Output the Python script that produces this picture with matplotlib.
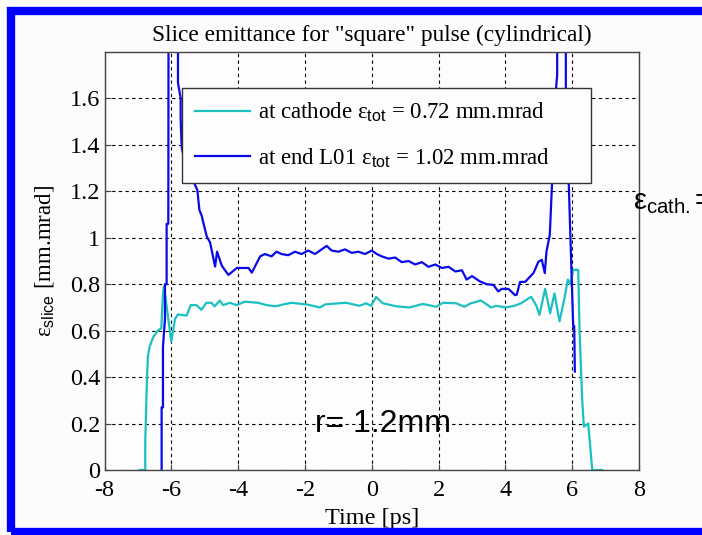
import matplotlib.pyplot as plt
import matplotlib.patches as mpatches
import numpy as np

plt.rcParams["font.family"] = ["Liberation Serif", "DejaVu Serif"]
plt.rcParams["mathtext.fontset"] = "custom"
plt.rcParams["mathtext.rm"] = "Liberation Sans"
plt.rcParams["mathtext.it"] = "Liberation Sans:italic"

# slice emittance at the cathode [ps, mm.mrad]
t_cathode = [-6.95, -6.78, -6.78, -6.73, -6.70, -6.65, -6.55, -6.41, -6.30, -6.26, -6.24,
             -6.22, -6.18, -6.10, -6.00, -5.89, -5.80, -5.54, -5.42, -5.25, -5.10, -4.95,
             -4.80, -4.70, -4.55, -4.45, -4.25, -4.04, -3.80, -3.40, -3.15, -2.87, -2.65,
             -2.40, -1.95, -1.55, -1.40, -0.97, -0.76, -0.37, -0.17, -0.02, 0.13, 0.33,
             0.73, 1.13, 1.53, 1.93, 2.13, 2.53, 2.77, 2.97, 3.27, 3.57, 3.72, 4.02,
             4.27, 4.47, 4.77, 4.92, 5.02, 5.19, 5.34, 5.47, 5.62, 5.77, 5.87, 5.95,
             6.03, 6.18, 6.22, 6.30, 6.35, 6.48, 6.60, 6.90]
e_cathode = [0.0, 0.0, 0.12, 0.39, 0.49, 0.53, 0.57, 0.60, 0.61, 0.73, 0.77,
             0.79, 0.75, 0.66, 0.553, 0.65, 0.67, 0.665, 0.71, 0.71, 0.69, 0.72,
             0.72, 0.705, 0.73, 0.71, 0.72, 0.71, 0.725, 0.72, 0.71, 0.705, 0.713,
             0.72, 0.713, 0.70, 0.713, 0.718, 0.72, 0.707, 0.718, 0.707, 0.745, 0.718,
             0.705, 0.70, 0.715, 0.703, 0.72, 0.718, 0.703, 0.718, 0.73, 0.70, 0.707, 0.70,
             0.707, 0.718, 0.746, 0.71, 0.668, 0.78, 0.675, 0.76, 0.64, 0.74, 0.82, 0.80,
             0.862, 0.862, 0.60, 0.30, 0.187, 0.20, 0.0, 0.0]

# slice emittance at the end of L01
t_l01 = [-6.29, -6.29, -6.25, -6.25, -6.19, -6.19, -6.14, -6.14, -6.09, -6.08, -5.80,
         -5.80, -5.72, -5.72, -5.69, -5.60, -5.22, -5.16, -5.09, -5.05, -4.94, -4.84,
         -4.69, -4.63, -4.49, -4.29, -4.04, -3.69, -3.59, -3.34, -3.20, -3.00, -2.85,
         -2.70, -2.50, -2.30, -2.10, -1.90, -1.70, -1.50, -1.35, -1.20, -1.00, -0.80,
         -0.60, -0.40, -0.20, 0.00, 0.15, 0.30, 0.50, 0.70, 0.90, 1.10, 1.30, 1.50,
         1.70, 1.90, 2.10, 2.30, 2.50, 2.70, 2.84, 3.00, 3.24, 3.44, 3.64, 3.79, 3.89,
         4.09, 4.29, 4.34, 4.44, 4.59, 4.84, 4.99, 5.09, 5.18, 5.23, 5.33, 5.35, 5.52,
         5.55, 5.56, 5.81, 5.81, 5.93, 6.03, 6.06, 6.08]
e_l01 = [0.0, 0.27, 0.27, 0.53, 0.65, 0.80, 0.80, 1.06, 1.06, 2.40, 2.40,
         1.667, 1.60, 1.51, 1.39, 1.33, 1.205, 1.12, 1.095, 1.07, 1.006, 0.98,
         0.876, 0.94, 0.88, 0.84, 0.87, 0.87, 0.85, 0.92, 0.93, 0.92, 0.94,
         0.93, 0.925, 0.94, 0.93, 0.945, 0.93, 0.95, 0.965, 0.945, 0.94, 0.95,
         0.935, 0.94, 0.93, 0.945, 0.93, 0.92, 0.91, 0.915, 0.895, 0.90, 0.885, 0.895,
         0.875, 0.885, 0.87, 0.875, 0.855, 0.86, 0.82, 0.835, 0.812, 0.80, 0.797, 0.769, 0.78,
         0.78, 0.753, 0.755, 0.81, 0.81, 0.848, 0.897, 0.905, 0.848, 0.94, 1.013, 1.078, 1.65,
         1.70, 2.40, 2.40, 1.65, 1.08, 0.62, 0.62, 0.424]

label_cathode = r"at cathode ε$_{\mathrm{tot}}$ = 0.72 mm.mrad"
label_l01 = r"at end L01 ε$_{\mathrm{tot}}$ = 1.02 mm.mrad"
x_ticks = [-8, -6, -4, -2, 0, 2, 4, 6, 8]
y_ticks = [0, 0.2, 0.4, 0.6, 0.8, 1, 1.2, 1.4, 1.6]
y_ticklabels = ["0", "0.2", "0.4", "0.6", "0.8", "1", "1.2", "1.4", "1.6"]

SERIF = ["Liberation Serif", "DejaVu Serif"]
W, H = 702, 535
fig = plt.figure(figsize=(W / 100, H / 100), dpi=100)
fig.patch.set_facecolor("#fcfcfc")

# blue frame around the slide
frame = mpatches.Rectangle((11 / W, 1 - 531.5 / H), 800 / W, 521 / H,
                           transform=fig.transFigure, fill=False,
                           edgecolor="#0000ff", linewidth=6, clip_on=False)
fig.patches.append(frame)

ax = fig.add_axes([104.5 / W, (H - 470) / H, 534.5 / W, 418 / H])
ax.set_facecolor("#fdfdfd")
ax.plot(t_cathode, e_cathode, color="#1cc0c0", lw=1.6, label=label_cathode)
ax.plot(t_l01, e_l01, color="#0a0ae8", lw=1.6, label=label_l01)

ax.set_xlim(-8, 8)
ax.set_ylim(0, 1.8)
ax.set_xticks(x_ticks)
ax.set_xticklabels([str(v) for v in x_ticks], family=SERIF, fontsize=17.5)
ax.set_yticks(y_ticks)
ax.set_yticklabels(y_ticklabels, family=SERIF, fontsize=17.5)
ax.tick_params(direction="in", length=4, color="#444444", pad=3)
ax.tick_params(axis="x", pad=7)
ax.grid(True, color="black", linestyle=(0, (3, 3)), linewidth=0.8)
ax.set_axisbelow(True)
for s in ax.spines.values():
    s.set_color("#444444")
    s.set_linewidth(1.0)

ax.set_title('Slice emittance for "square" pulse (cylindrical)', fontsize=16.8, pad=8)
ax.set_xlabel("Time [ps]", fontsize=17.5)
ax.xaxis.set_label_coords(0.5, -0.09)
ax.set_ylabel(r"ε$_{\mathrm{slice}}$ [mm.mrad]", fontsize=16.5)
ax.yaxis.set_label_coords(-0.088, 0.5)

leg = ax.legend(loc="upper left", bbox_to_anchor=(0.145, 0.672, 0.765, 0.242),
                mode="expand", fontsize=16.5, frameon=True, fancybox=False,
                handlelength=2.4, handletextpad=0.35, labelspacing=0.95,
                borderpad=0.55, borderaxespad=0)
leg.get_frame().set_edgecolor("#333333")
leg.get_frame().set_linewidth(1.0)
leg.get_frame().set_facecolor("#fdfdfd")
leg.get_frame().set_alpha(1)

ax.text(-1.7, 0.2, "r= 1.2mm", fontsize=23, family="Liberation Sans",
        ha="left", va="center")
fig.text(633 / W, 1 - 202 / H, r"ε$_{\mathrm{cath.}}$=", fontsize=21,
         family="Liberation Sans", ha="left", va="center")

fig.savefig("out.png", dpi=100, facecolor=fig.get_facecolor())
